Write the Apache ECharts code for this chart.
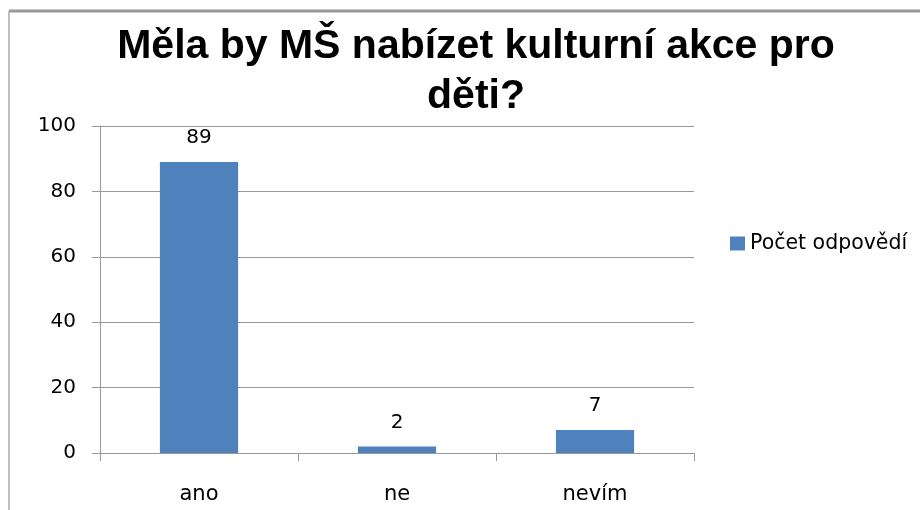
<!DOCTYPE html>
<html><head><meta charset="utf-8">
<script src="https://cdn.jsdelivr.net/npm/echarts@6/dist/echarts.min.js"></script>
<style>html,body{margin:0;padding:0;background:#fff}#c{width:920px;height:510px}</style>
</head><body><div id="c"></div>
<script>
const categories = ["ano", "ne", "nevím"];
const values = [89, 2, 7];
const seriesName = "Počet odpovědí";
const yTicks = [0, 20, 40, 60, 80, 100];
const titleText = "Měla by MŠ nabízet kulturní akce pro\nděti?";

const chart = echarts.init(document.getElementById('c'), null, {renderer: 'canvas'});
const font = "Liberation Sans, Arial, sans-serif";
const dfont = "DejaVu Sans, sans-serif";
chart.setOption({
  backgroundColor: '#fff',
  animation: false,
  title: {
    text: titleText,
    left: 471, top: 17, textAlign: 'center',
    textStyle: {fontFamily: font, fontSize: 41, fontWeight: 'bold', color: '#000', lineHeight: 50}
  },
  legend: {
    data: [seriesName], left: 730, top: 233, orient: 'vertical', padding: 0,
    itemWidth: 15, itemHeight: 14, itemGap: 6, icon: 'rect',
    textStyle: {fontFamily: dfont, fontSize: 20.5, color: '#000'}
  },
  grid: {left: 100, right: 226, top: 126, bottom: 57, containLabel: false},
  xAxis: {
    type: 'category', data: categories,
    axisLine: {lineStyle: {color: '#999', width: 1}},
    axisTick: {show: true, length: 8, lineStyle: {color: '#999'}},
    axisLabel: {fontFamily: dfont, fontSize: 21, color: '#000', margin: 31}
  },
  yAxis: {
    type: 'value', min: 0, max: 100, interval: 20,
    axisLine: {show: true, lineStyle: {color: '#999'}},
    axisTick: {show: true, length: 8, lineStyle: {color: '#999'}},
    splitLine: {lineStyle: {color: '#999', width: 1}},
    axisLabel: {fontFamily: dfont, fontSize: 20, color: '#000', margin: 24,
      formatter: v => yTicks.includes(v) ? String(v) : ''}
  },
  series: [{
    name: seriesName, type: 'bar', data: values, barWidth: '39.5%',
    itemStyle: {color: '#4F81BD'},
    label: {show: true, position: 'top', distance: 14, fontFamily: dfont, fontSize: 20, color: '#000'}
  }],
  graphic: [
    {type: 'line', shape: {x1: 9, y1: 11, x2: 920, y2: 11}, style: {stroke: '#999', lineWidth: 3}},
    {type: 'line', shape: {x1: 9, y1: 11, x2: 9, y2: 510}, style: {stroke: '#aaa', lineWidth: 1.5}}
  ]
});
</script></body></html>
